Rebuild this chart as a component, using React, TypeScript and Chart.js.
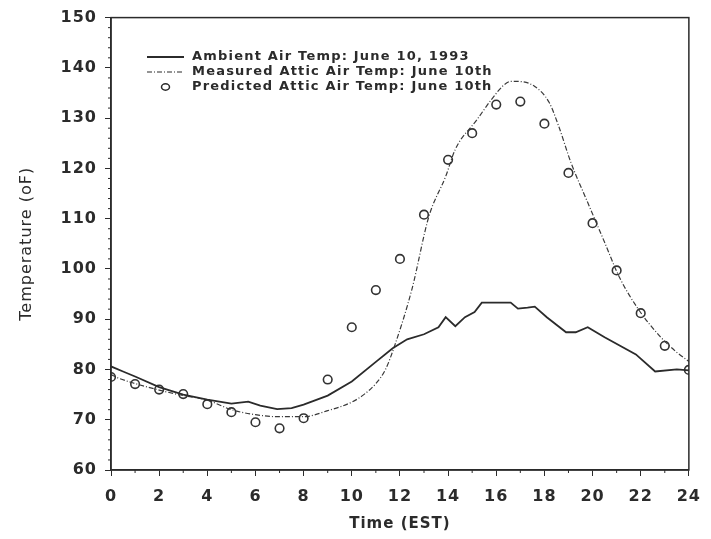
import React, { useEffect, useRef } from 'react';
import { Chart, registerables } from 'chart.js';

Chart.register(...registerables);

// Ambient air temperature (solid line)
const ambientHours = [0, 0.5, 1, 2, 3, 4, 5, 5.7, 6.2, 6.9, 7.5, 8, 9, 10, 11, 11.7, 12.3, 13, 13.6, 13.9, 14.3, 14.7, 15.1, 15.4, 16.6, 16.9, 17.3, 17.6, 18.1, 18.9, 19.3, 19.8, 20.5, 21.8, 22.6, 23.5, 24];
const ambientTemps = [80.6, 79.6, 78.6, 76.5, 75.0, 74.0, 73.2, 73.6, 72.8, 72.1, 72.3, 73.0, 74.8, 77.6, 81.5, 84.2, 86.0, 87.0, 88.4, 90.4, 88.6, 90.4, 91.4, 93.3, 93.3, 92.1, 92.3, 92.5, 90.4, 87.4, 87.4, 88.4, 86.4, 83.0, 79.6, 80.0, 79.8];

// Measured attic air temperature (dashed line)
const measuredHours = [0, 0.3, 1, 2, 3, 4, 5, 6, 7, 8, 9, 10, 10.5, 11, 11.4, 11.8, 12.5, 13.2, 13.9, 14.3, 15.2, 15.8, 16.3, 16.6, 16.9, 17.6, 18.2, 18.6, 19.1, 19.8, 20.5, 21.1, 21.9, 22.8, 23.5, 24];
const measuredTemps = [79.0, 78.3, 77.2, 75.9, 74.8, 73.9, 72.0, 71.0, 70.6, 70.6, 71.8, 73.5, 75.0, 77.2, 80.0, 85.0, 96.0, 110.4, 118.4, 123.8, 129.7, 133.7, 136.5, 137.3, 137.3, 136.3, 133.1, 128.3, 121.2, 113.2, 105.3, 98.5, 92.0, 86.6, 83.4, 81.6];

// Predicted attic air temperature (circles), hourly
const predictedHours = [0, 1, 2, 3, 4, 5, 6, 7, 8, 9, 10, 11, 12, 13, 14, 15, 16, 17, 18, 19, 20, 21, 22, 23, 24];
const predictedTemps = [78.5, 77.1, 76.0, 75.1, 73.1, 71.5, 69.5, 68.3, 70.3, 78.0, 88.4, 95.8, 102.0, 110.8, 121.7, 127.0, 132.7, 133.3, 128.9, 119.1, 109.1, 99.7, 91.2, 84.7, 79.9];

const seriesLabels = [
  'Ambient Air Temp: June 10, 1993',
  'Measured Attic Air Temp: June 10th',
  'Predicted Attic Air Temp: June 10th',
];

const xTitle = 'Time (EST)';
const yTitle = 'Temperature (oF)';

const INK = '#2b2b2b';

const toPoints = (xs: number[], ys: number[]) => xs.map((x, i) => ({ x, y: ys[i] }));

export default function App() {
  const ref = useRef<HTMLCanvasElement>(null);

  useEffect(() => {
    document.body.style.margin = '0';
    const canvas = ref.current!;

    const spacingPlugin = {
      id: 'spacing',
      beforeDraw(chart: any) {
        (chart.ctx as any).letterSpacing = '1px';
      },
    };

    const framePlugin = {
      id: 'frame',
      afterDraw(chart: any) {
        const { ctx, chartArea: a, scales } = chart;
        ctx.save();
        ctx.strokeStyle = INK;
        ctx.lineWidth = 1.5;
        ctx.strokeRect(a.left, a.top, a.right - a.left, a.bottom - a.top);
        // minor ticks
        ctx.lineWidth = 1;
        ctx.beginPath();
        for (let h = 1; h < 24; h += 2) {
          const px = scales.x.getPixelForValue(h);
          ctx.moveTo(px, a.bottom);
          ctx.lineTo(px, a.bottom + 3);
        }
        for (let v = 62; v < 150; v += 2) {
          if (v % 10 === 0) continue;
          const py = scales.y.getPixelForValue(v);
          ctx.moveTo(a.left, py);
          ctx.lineTo(a.left - 3, py);
        }
        ctx.stroke();
        ctx.restore();
      },
    };

    const legendPlugin = {
      id: 'customLegend',
      afterDraw(chart: any) {
        const { ctx } = chart;
        ctx.save();
        (ctx as any).letterSpacing = '1.2px';
        ctx.font = 'bold 13px "DejaVu Sans"';
        ctx.fillStyle = INK;
        ctx.textBaseline = 'middle';
        ctx.textAlign = 'left';
        const rows = [57, 72, 87];
        const x0 = 147, x1 = 184, tx = 192;
        // solid
        ctx.strokeStyle = INK;
        ctx.lineWidth = 1.8;
        ctx.setLineDash([]);
        ctx.beginPath();
        ctx.moveTo(x0, rows[0]);
        ctx.lineTo(x1, rows[0]);
        ctx.stroke();
        // dashed
        ctx.lineWidth = 1.2;
        ctx.setLineDash([5, 2, 1, 2]);
        ctx.beginPath();
        ctx.moveTo(x0, rows[1]);
        ctx.lineTo(x1, rows[1]);
        ctx.stroke();
        ctx.setLineDash([]);
        // circle
        ctx.lineWidth = 1.5;
        ctx.beginPath();
        ctx.ellipse((x0 + x1) / 2, rows[2], 4, 3.2, 0, 0, Math.PI * 2);
        ctx.stroke();
        seriesLabels.forEach((t, i) => ctx.fillText(t, tx, rows[i]));
        ctx.restore();
      },
    };

    const chart = new Chart(canvas, {
      type: 'line',
      data: {
        datasets: [
          {
            label: seriesLabels[0],
            data: toPoints(ambientHours, ambientTemps),
            borderColor: INK,
            borderWidth: 1.8,
            pointRadius: 0,
            tension: 0,
            fill: false,
          },
          {
            label: seriesLabels[1],
            data: toPoints(measuredHours, measuredTemps),
            borderColor: '#3a3a3a',
            borderWidth: 1.2,
            borderDash: [5, 2, 1, 2],
            pointRadius: 0,
            cubicInterpolationMode: 'monotone',
            fill: false,
          },
          {
            label: seriesLabels[2],
            data: toPoints(predictedHours, predictedTemps),
            showLine: false,
            pointStyle: 'circle',
            pointRadius: 4.3,
            pointBorderWidth: 1.6,
            pointBorderColor: '#333',
            pointBackgroundColor: 'rgba(255,255,255,0)',
          },
        ],
      },
      options: {
        animation: false,
        responsive: false,
        events: [],
        layout: { padding: { top: 17, right: 15, left: 0, bottom: 0 } },
        plugins: { legend: { display: false }, tooltip: { enabled: false } },
        scales: {
          x: {
            type: 'linear',
            min: 0,
            max: 24,
            afterFit: (s: any) => {
              s.height = 69;
            },
            ticks: {
              stepSize: 1,
              autoSkip: false,
              maxRotation: 0,
              color: INK,
              padding: 11,
              font: { family: 'DejaVu Sans', size: 16, weight: 'bold' },
              callback: (v: any) => (Number(v) % 2 === 0 ? String(v) : ''),
            },
            grid: {
              drawOnChartArea: false,
              tickLength: 6,
              tickWidth: 1,
              tickColor: (c: any) => (c.tick && c.tick.value % 2 === 0 ? INK : 'rgba(0,0,0,0)'),
            },
            border: { color: INK, width: 1.5 },
            title: {
              display: true,
              text: xTitle,
              color: INK,
              font: { family: 'DejaVu Sans', size: 15, weight: 'bold' },
              padding: { top: 0, bottom: 6 },
            },
          },
          y: {
            type: 'linear',
            min: 60,
            max: 150,
            afterFit: (s: any) => {
              s.width = 111;
            },
            ticks: {
              stepSize: 2,
              autoSkip: false,
              color: INK,
              padding: 8,
              font: { family: 'DejaVu Sans', size: 16, weight: 'bold' },
              callback: (v: any) => (Number(v) % 10 === 0 ? String(v) : ''),
            },
            grid: {
              drawOnChartArea: false,
              tickLength: 6,
              tickWidth: 1,
              tickColor: (c: any) => (c.tick && c.tick.value % 10 === 0 ? INK : 'rgba(0,0,0,0)'),
            },
            border: { color: INK, width: 1.5 },
            title: {
              display: true,
              text: yTitle,
              color: INK,
              font: { family: 'DejaVu Sans', size: 16, weight: 'normal' },
              padding: { top: 17, bottom: 0 },
            },
          },
        },
      },
      plugins: [spacingPlugin, framePlugin, legendPlugin],
    } as any);

    return () => chart.destroy();
  }, []);

  return <canvas ref={ref} width={711} height={539} style={{ display: 'block' }} />;
}
